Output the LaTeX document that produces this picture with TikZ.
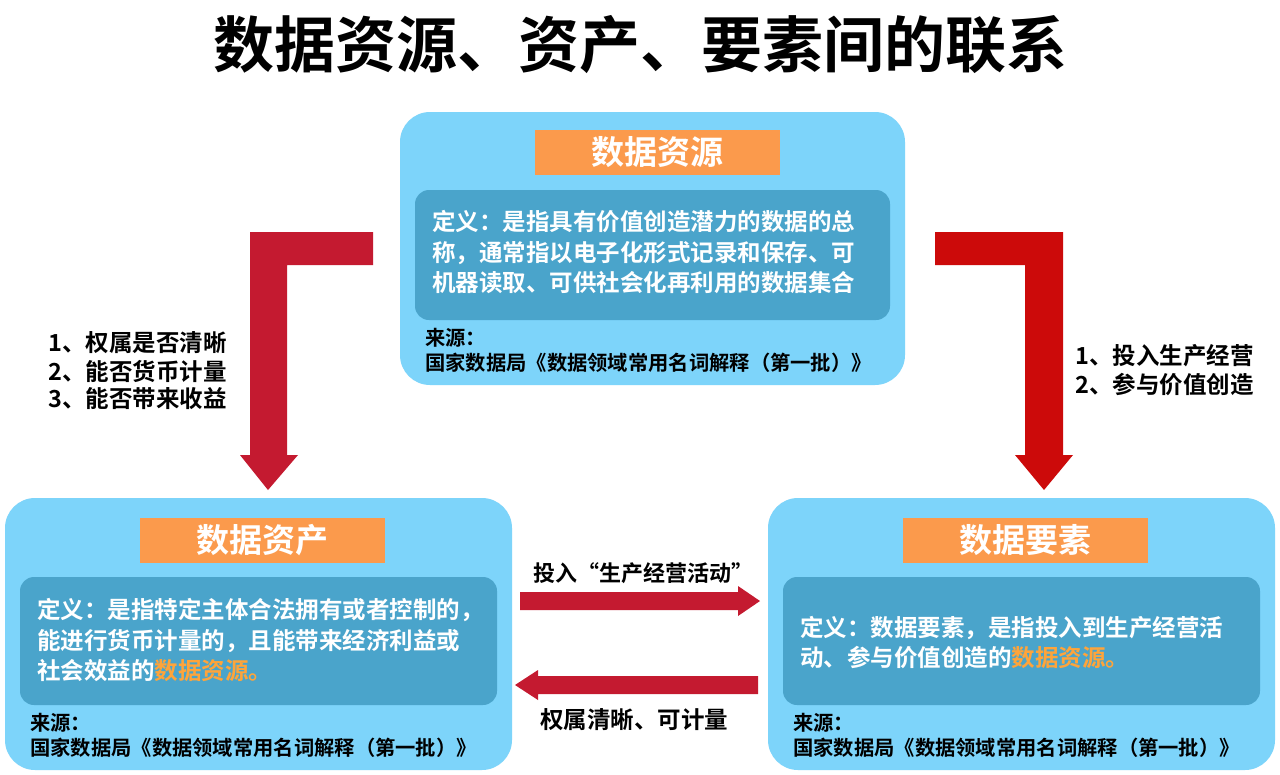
\documentclass[tikz,border=0pt]{standalone}
\usepackage{fontspec}
\setmainfont{Noto Sans CJK SC}[BoldFont={Noto Sans CJK SC Bold}]
\begin{document}
\begin{tikzpicture}[x=1pt,y=-1pt,
 outer/.style={fill=outerblue,rounded corners=30pt},
 inner/.style={fill=innerblue,rounded corners=14pt},
 lab/.style={fill=labor,minimum width=245pt,minimum height=45pt,inner sep=0pt,font=\bfseries\fontsize{33}{33}\selectfont,text=white},
 txt/.style={anchor=west,inner sep=0pt,font=\bfseries\fontsize{23.5}{23.5}\selectfont},
 wt/.style={txt,text=white},
 src/.style={txt,font=\bfseries\fontsize{20.3}{20.3}\selectfont}]
\definecolor{outerblue}{HTML}{7DD4FA}
\definecolor{innerblue}{HTML}{4AA4CB}
\definecolor{labor}{HTML}{FB9A4C}
\definecolor{redA}{HTML}{C41A30}
\definecolor{redB}{HTML}{CC0A0A}
\definecolor{hl}{HTML}{FFA43A}
\useasboundingbox (0,0) rectangle (1280,774);
\fill[white] (0,0) rectangle (1280,774);
\node[font=\bfseries\fontsize{61}{61}\selectfont] (title) at (640,45) {数据资源、资产、要素间的联系};
% top
\fill[outer] (400,112) rectangle (905,385);
\node[lab] (l1) at (657,152) {数据资源};
\fill[inner] (415,190) rectangle (890,320);
\node[wt] (t1a) at (432,222) {定义：是指具有价值创造潜力的数据的总};
\node[wt] (t1b) at (432,253) {称，通常指以电子化形式记录和保存、可};
\node[wt] (t1c) at (432,283) {机器读取、可供社会化再利用的数据集合};
\node[src] (s1a) at (425,338) {来源：};
\node[src] (s1b) at (425,363) {国家数据局《数据领域常用名词解释（第一批）》};
% left
\fill[outer] (5,498) rectangle (512,770);
\node[lab] (l2) at (262,540) {数据资产};
\fill[inner] (20,577) rectangle (497,705);
\node[wt] (t2a) at (37,610) {定义：是指特定主体合法拥有或者控制的，};
\node[wt] (t2b) at (37,641) {能进行货币计量的，且能带来经济利益或};
\node[wt] (t2c) at (37,671) {社会效益的\textcolor{hl}{数据资源。}};
\node[src] (s2a) at (30,723) {来源：};
\node[src] (s2b) at (30,748) {国家数据局《数据领域常用名词解释（第一批）》};
% right
\fill[outer] (768,498) rectangle (1275,770);
\node[lab] (l3) at (1025,540) {数据要素};
\fill[inner] (783,577) rectangle (1260,705);
\node[wt] (t3a) at (800,628) {定义：数据要素，是指投入到生产经营活};
\node[wt] (t3b) at (800,658) {动、参与价值创造的\textcolor{hl}{数据资源。}};
\node[src] (s3a) at (793,723) {来源：};
\node[src] (s3b) at (793,748) {国家数据局《数据领域常用名词解释（第一批）》};
% L arrows
\fill[redA] (373,232) -- (250,232) -- (250,455) -- (240,455) -- (268,490) -- (298,455) -- (287,455) -- (287,265) -- (373,265) -- cycle;
\fill[redB] (935,232) -- (1063,232) -- (1063,455) -- (1073,455) -- (1044,490) -- (1015,455) -- (1025,455) -- (1025,265) -- (935,265) -- cycle;
% middle arrows
\fill[redA] (520,592) -- (738,592) -- (738,586) -- (760,601) -- (738,616) -- (738,610) -- (520,610) -- cycle;
\fill[redA] (758,676) -- (538,676) -- (538,670) -- (515,685) -- (538,700) -- (538,694) -- (758,694) -- cycle;
% labels
\node[txt] (a1) at (48,343) {1、权属是否清晰};
\node[txt] (a2) at (48,371) {2、能否货币计量};
\node[txt] (a3) at (48,399) {3、能否带来收益};
\node[txt] (b1) at (1075,356) {1、投入生产经营};
\node[txt] (b2) at (1075,385) {2、参与价值创造};
\node[font=\bfseries\fontsize{22}{22}\selectfont] (m1) at (643,573) {投入“生产经营活动”};
\node[font=\bfseries\fontsize{23.5}{23.5}\selectfont] (m2) at (634,720) {权属清晰、可计量};
\end{tikzpicture}
\end{document}
